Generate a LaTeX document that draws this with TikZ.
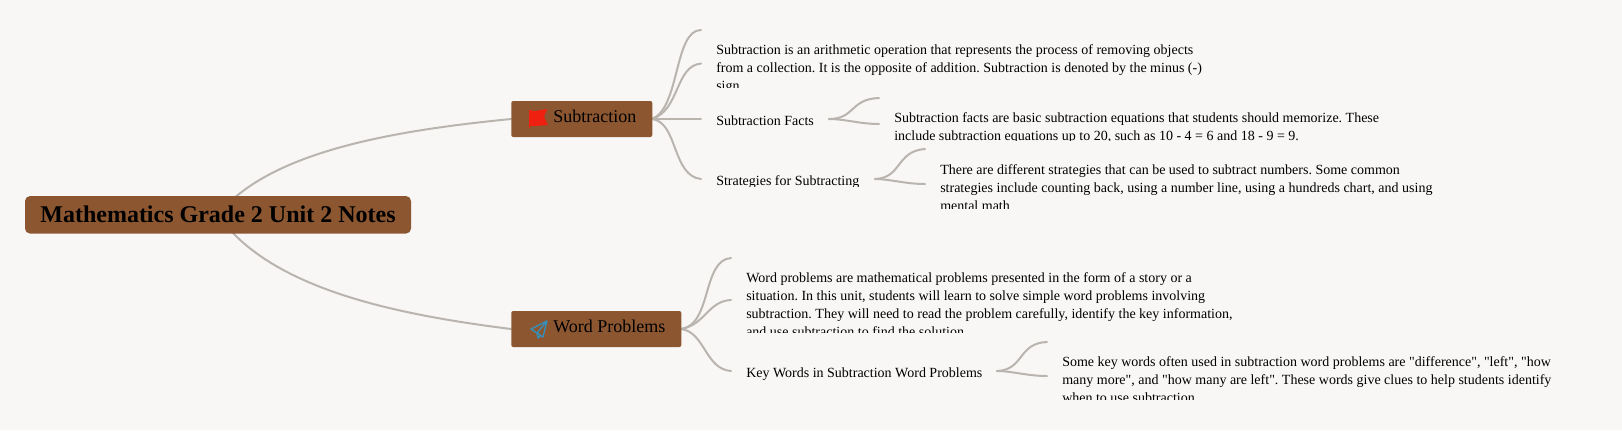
\documentclass[tikz,border=0pt]{standalone}
\usepackage{fontspec}
\setmainfont{Liberation Serif}[Ligatures=TeXOff]
\newlength{\du}
\setlength{\du}{0.75pt}
\definecolor{pagecolor}{HTML}{F8F7F6}
\definecolor{boxcolor}{HTML}{8B5630}
\definecolor{linecolor}{HTML}{BAB4AF}
\definecolor{flagcolor}{HTML}{F02010}
\definecolor{planecolor}{HTML}{3A8DB5}
\tikzset{
  rootbox/.style={fill=boxcolor,rounded corners=5\du,inner sep=0pt,minimum width=386\du,minimum height=37.5\du,text height=11pt,text depth=0pt,font=\fontsize{18}{22}\selectfont\bfseries},
  topicbox/.style={fill=boxcolor,rounded corners=2\du,anchor=west,inner sep=0pt,minimum height=36\du,text height=9pt,text depth=4pt,font=\fontsize{13.5}{16}\selectfont},
  leafnode/.style={anchor=west,inner xsep=15\du,inner ysep=0pt,text height=9pt,text depth=0pt,font=\fontsize{10.5}{13.5}\selectfont},
  parnode/.style={anchor=north west,inner sep=0pt,align=left,font=\fontsize{10.5}{13.5}\selectfont},
  branch/.style={draw=linecolor,line width=2\du,line cap=round}
}
\begin{document}
\frenchspacing
\begin{tikzpicture}
\pgftransformyscale{-1.000000}
\useasboundingbox[fill=pagecolor] (0\du,0\du) rectangle (1622\du,430\du);
% connectors go in first, boxes sit on top of them
\coordinate (rootmid) at (218\du,214.8\du);
\coordinate (subin) at (511\du,119\du);
\coordinate (subout) at (652\du,119\du);
\coordinate (wordin) at (511\du,329\du);
\coordinate (wordout) at (681\du,329\du);
\coordinate (subend1) at (701\du,30\du);
\coordinate (subend2) at (701\du,63.5\du);
\coordinate (factsout) at (829\du,119\du);
\coordinate (factsend1) at (879\du,98\du);
\coordinate (factsend2) at (879\du,124\du);
\coordinate (stratout) at (875\du,179\du);
\coordinate (stratend1) at (925\du,149\du);
\coordinate (stratend2) at (925\du,184\du);
\coordinate (wordend1) at (731\du,258\du);
\coordinate (wordend2) at (731\du,300\du);
\coordinate (keyout) at (997\du,371\du);
\coordinate (keyend1) at (1047\du,342\du);
\coordinate (keyend2) at (1047\du,376\du);
\draw[branch] (rootmid) .. controls (270\du,150\du) and (400\du,130\du) .. (subin);
\draw[branch] (rootmid) .. controls (270\du,290\du) and (400\du,315\du) .. (wordin);
\draw[branch] (subout) .. controls (680\du,108\du) and (674\du,30\du) .. (subend1);
\draw[branch] (subout) .. controls (680\du,110\du) and (675\du,66\du) .. (subend2);
\draw[branch] (subout) -- (701\du,119\du);
\draw[branch] (subout) .. controls (678\du,122\du) and (672\du,176\du) .. (701\du,179\du);
\draw[branch] (factsout) .. controls (855\du,119\du) and (850\du,99\du) .. (factsend1);
\draw[branch] (factsout) .. controls (845\du,119\du) and (860\du,124\du) .. (factsend2);
\draw[branch] (stratout) .. controls (902\du,178\du) and (896\du,151\du) .. (stratend1);
\draw[branch] (stratout) .. controls (890\du,179\du) and (905\du,184\du) .. (stratend2);
\draw[branch] (wordout) .. controls (712\du,325\du) and (702\du,260\du) .. (wordend1);
\draw[branch] (wordout) .. controls (705\du,325\du) and (708\du,301\du) .. (wordend2);
\draw[branch] (wordout) .. controls (705\du,332\du) and (705\du,369\du) .. (731\du,371\du);
\draw[branch] (keyout) .. controls (1024\du,370\du) and (1018\du,343\du) .. (keyend1);
\draw[branch] (keyout) .. controls (1012\du,371\du) and (1027\du,376\du) .. (keyend2);
% boxes
\node[rootbox] (root) at (218\du,214.8\du) {Mathematics Grade 2 Unit 2 Notes};
\node[topicbox,minimum width=141\du] (subtraction) at (511\du,119\du) {\hspace*{42\du}Subtraction\hspace*{16\du}};
\node[topicbox,minimum width=170\du] (wordproblems) at (511\du,329\du) {\hspace*{42\du}Word Problems\hspace*{16\du}};
% icons
\fill[flagcolor] (529\du,128\du)--(529\du,110\du)--(535\du,111\du)--(547\du,109\du)--(544\du,117\du)--(548\du,125\du)--(535\du,126\du)--(530\du,126\du)--(530\du,128\du)--cycle;
\draw[planecolor,line width=1.4\du,line join=round] (531\du,329\du)--(547\du,321\du)--(543\du,337\du)--(537\du,333\du)--cycle (547\du,321\du)--(537\du,333\du)--(538\du,338\du)--(541\du,335.5\du);
% leaves
\begin{scope}
\clip (701\du,0\du) rectangle (880\du,186\du);
\node[leafnode] (subfacts) at (701\du,119\du) {Subtraction Facts};
\node[leafnode] (substrat) at (701\du,179\du) {Strategies for Subtracting};
\end{scope}
\begin{scope}
\clip (701\du,340\du) rectangle (997\du,380\du);
\node[leafnode] (keywords) at (731\du,371\du) {Key Words in Subtraction Word Problems};
\end{scope}
% paragraphs, cut off at the bottom of their boxes
\begin{scope}
\clip (700\du,30\du) rectangle (1300\du,87\du);
\node[parnode] (subpar) at (716\du,44.5\du) {Subtraction is an arithmetic operation that represents the process of removing objects\\from a collection. It is the opposite of addition. Subtraction is denoted by the minus (-)\\sign};
\end{scope}
\begin{scope}
\clip (880\du,100\du) rectangle (1500\du,140\du);
\node[parnode] (factspar) at (894\du,112.5\du) {Subtraction facts are basic subtraction equations that students should memorize. These\\include subtraction equations up to 20, such as 10 - 4 = 6 and 18 - 9 = 9.};
\end{scope}
\begin{scope}
\clip (930\du,150\du) rectangle (1500\du,208\du);
\node[parnode] (stratpar) at (940\du,164.5\du) {There are different strategies that can be used to subtract numbers. Some common\\strategies include counting back, using a number line, using a hundreds chart, and using\\mental math};
\end{scope}
\begin{scope}
\clip (740\du,260\du) rectangle (1300\du,332\du);
\node[parnode] (wordpar) at (746\du,272.5\du) {Word problems are mathematical problems presented in the form of a story or a\\situation. In this unit, students will learn to solve simple word problems involving\\subtraction. They will need to read the problem carefully, identify the key information,\\and use subtraction to find the solution};
\end{scope}
\begin{scope}
\clip (1050\du,345\du) rectangle (1622\du,399\du);
\node[parnode] (keypar) at (1062\du,356.5\du) {Some key words often used in subtraction word problems are "difference", "left", "how\\many more", and "how many are left". These words give clues to help students identify\\when to use subtraction};
\end{scope}
\end{tikzpicture}
\end{document}
